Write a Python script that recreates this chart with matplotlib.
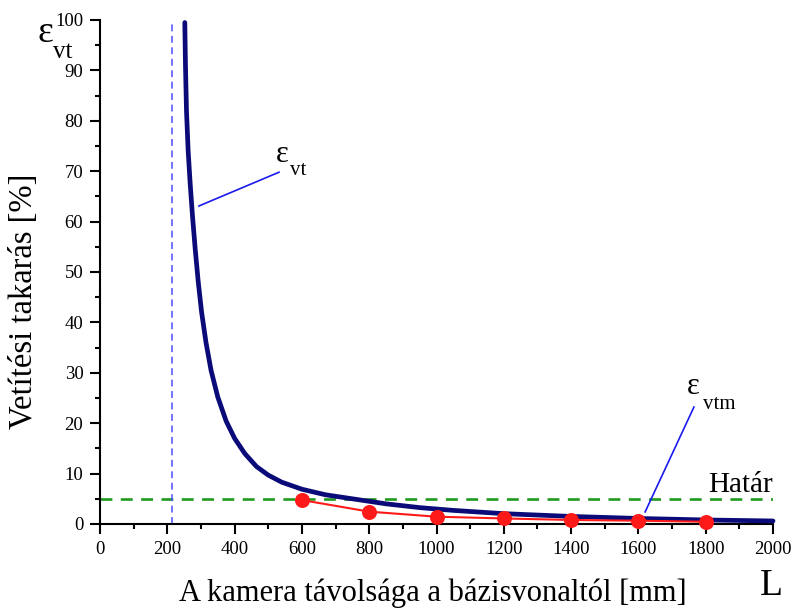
import matplotlib
matplotlib.use("Agg")
import matplotlib.pyplot as plt
from matplotlib.ticker import MultipleLocator

# ---- data ----
L_curve = [252, 254, 257, 262, 268, 275, 283, 292, 302, 315, 330, 350, 375, 400,
           430, 465, 500, 540, 600, 670, 750, 850, 950, 1050, 1200, 1400, 1600,
           1800, 2000]
eps_vt = [99.5, 91, 82, 74, 67.5, 61, 54.5, 48, 42, 36, 30.5, 25.2, 20.4, 17.0,
          14.0, 11.4, 9.7, 8.3, 6.9, 5.8, 5.0, 4.0, 3.25, 2.7, 2.05, 1.5, 1.1,
          0.8, 0.6]

L_meas = [600, 800, 1000, 1200, 1400, 1600, 1800]
eps_vtm = [4.75, 2.45, 1.45, 1.1, 0.8, 0.65, 0.45]

limit_value = 5.0        # "Határ"
asymptote_L = 214        # vertical dashed line

# annotation leader lines (data coords)
lead_vt = ([294, 532], [63.1, 69.8])
lead_vtm = ([1765, 1620], [23.2, 2.4])

xticks = list(range(0, 2001, 200))
yticks = list(range(0, 101, 10))

xlabel = "A kamera távolsága a bázisvonaltól [mm]"
ylabel = "Vetítési takarás [%]"

# ---- figure ----
W, H = 795, 609
fig = plt.figure(figsize=(W / 100, H / 100), dpi=100)
plt.rcParams['font.family'] = ['Liberation Serif', 'DejaVu Serif']

def fx(px):
    return px / W

def fy(py):
    return 1 - py / H

ax = fig.add_axes([fx(100), fy(524), fx(773) - fx(100), fy(20) - fy(524)])

ax.axhline(limit_value, color="#1f9a1f", lw=1.9, dashes=(4.5, 3.2), zorder=2)
ax.axvline(asymptote_L, color="#4d4dff", lw=1.1, dashes=(4.5, 3), zorder=2)
ax.plot(L_curve, eps_vt, color="#0a0a78", lw=3.4, solid_capstyle="round",
        solid_joinstyle="round", zorder=3, clip_on=False)
ax.plot(L_meas, eps_vtm, color="#ff1a1a", lw=1.5, marker="o", ms=10.8,
        markeredgewidth=0, zorder=4, clip_on=False)

ax.plot(*lead_vt, color="#1a1aee", lw=1.2, zorder=5)
ax.plot(*lead_vtm, color="#1a1aee", lw=1.2, zorder=5, clip_on=False)

ax.set_xlim(0, 2000)
ax.set_ylim(0, 100)
ax.set_xticks(xticks)
ax.set_yticks(yticks)
ax.xaxis.set_minor_locator(MultipleLocator(100))
ax.yaxis.set_minor_locator(MultipleLocator(5))
for s in ("top", "right"):
    ax.spines[s].set_visible(False)
for s in ("left", "bottom"):
    ax.spines[s].set_linewidth(1.5)
ax.tick_params(which="major", direction="out", length=7, width=1.5,
               labelsize=13.5, pad=5)
ax.tick_params(which="minor", direction="out", length=3.8, width=1.5)

# axis labels
fig.text(fx(433), fy(593), xlabel, fontsize=22, ha="center", va="center")
fig.text(fx(24), fy(301), ylabel, fontsize=23.5, ha="center", va="center",
         rotation=90)

# symbol labels
fig.text(fx(45), fy(33), "ε", fontsize=27, ha="center", va="center")
fig.text(fx(53), fy(58), "vt", fontsize=18, ha="left", va="baseline")

fig.text(fx(282), fy(155), "ε", fontsize=22, ha="center", va="center")
fig.text(fx(290), fy(175), "vt", fontsize=15, ha="left", va="baseline")

fig.text(fx(693), fy(386), "ε", fontsize=22, ha="center", va="center")
fig.text(fx(703), fy(409), "vtm", fontsize=15, ha="left", va="baseline")

fig.text(fx(708), fy(492), "Határ", fontsize=21, ha="left", va="baseline")
fig.text(fx(760), fy(595), "L", fontsize=27, ha="left", va="baseline")

fig.savefig("out.png", dpi=100)
